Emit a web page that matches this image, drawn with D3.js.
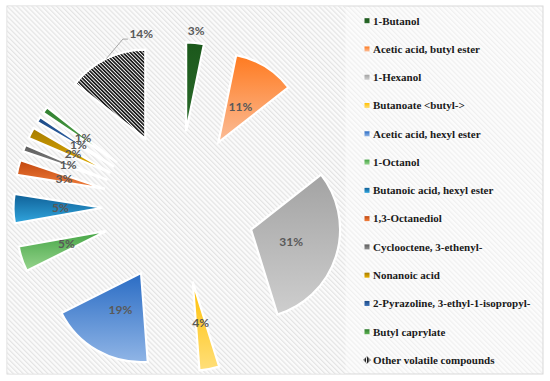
<!DOCTYPE html>
<html><head><meta charset="utf-8">
<script src="https://cdn.jsdelivr.net/npm/d3@7"></script>
<style>html,body{margin:0;padding:0;background:#fff;} svg{display:block}</style>
</head><body><svg id="chart" width="550" height="381"></svg>
<script>
// ---- data ----
const categories = ["1-Butanol", "Acetic acid, butyl ester", "1-Hexanol", "Butanoate <butyl->",
  "Acetic acid, hexyl ester", "1-Octanol", "Butanoic acid, hexyl ester", "1,3-Octanediol",
  "Cyclooctene, 3-ethenyl-", "Nonanoic acid", "2-Pyrazoline, 3-ethyl-1-isopropyl-",
  "Butyl caprylate", "Other volatile compounds"];
const values = [3.2, 11.2, 30.8, 3.6, 18.8, 4.6, 5.3, 2.7, 1.2, 2.0, 1.0, 1.2, 14.4];
const darkColors  = ["#1b581b", "#ff7a1f", "#a3a3a3", "#ffbf00", "#2a6cc4", "#45a545", "#0f5f96",
  "#c2470e", "#5e5e5e", "#a67c00", "#1c4a86", "#2f7d2f", null];
const lightColors = ["#2c6c2c", "#fbbd98", "#cecece", "#ffdf7a", "#90b5e6", "#96d48d", "#31a6de",
  "#f2803e", "#8e8e8e", "#e8b000", "#3d72b8", "#5fb352", null];
const outsideLabels = ["1-Butanol", "Other volatile compounds"];

// ---- layout ----
const W = 550, H = 381;
const cx = 178.5, cy = 207, R = 89, explode = 76, labelR = 118;
const svg = d3.select("#chart");
const defs = svg.append("defs");

function stripePattern(id, size, bg, fg, sw, rot) {
  const p = defs.append("pattern").attr("id", id).attr("patternUnits", "userSpaceOnUse")
    .attr("width", size).attr("height", size).attr("patternTransform", `rotate(${rot})`);
  p.append("rect").attr("width", size).attr("height", size).attr("fill", bg);
  p.append("line").attr("x1", sw / 2).attr("x2", sw / 2).attr("y1", 0).attr("y2", size)
    .attr("stroke", fg).attr("stroke-width", sw);
}
stripePattern("bgPlot", 3.5, "#fbfbfb", "#e4e4e4", 1.2, -45);
stripePattern("bgLegend", 3.5, "#fcfcfc", "#f0f0f0", 1.2, -45);
stripePattern("hatch", 2.6, "#ffffff", "#1a1a1a", 1.7, -45);

categories.forEach((c, i) => {
  if (!darkColors[i]) return;
  const g = defs.append("linearGradient").attr("id", "grad" + i)
    .attr("x1", 0).attr("y1", 0).attr("x2", 0).attr("y2", 1);
  g.append("stop").attr("offset", "0%").attr("stop-color", darkColors[i]);
  g.append("stop").attr("offset", "100%").attr("stop-color", lightColors[i]);
});
const fillOf = i => darkColors[i] ? `url(#grad${i})` : "url(#hatch)";

// chart area
svg.append("rect").attr("x", 7).attr("y", 6).attr("width", 536).attr("height", 368)
  .attr("fill", "url(#bgLegend)").attr("stroke", "#d9d9d9").attr("stroke-width", 1);
svg.append("rect").attr("x", 7.5).attr("y", 6.5).attr("width", 338).attr("height", 367)
  .attr("fill", "url(#bgPlot)");

// ---- pie ----
const pie = d3.pie().sort(null).value(d => d.v).startAngle(0).endAngle(2 * Math.PI);
const arcs = pie(categories.map((c, i) => ({ c, v: values[i], i })));
const arc = d3.arc().innerRadius(0).outerRadius(R);
const polar = (rho, a) => [cx + rho * Math.sin(a), cy - rho * Math.cos(a)];
const mid = d => (d.startAngle + d.endAngle) / 2;
const total = d3.sum(values);

svg.append("g").selectAll("path").data(arcs).join("path")
  .attr("transform", d => { const p = polar(explode, mid(d)); return `translate(${p[0]},${p[1]})`; })
  .attr("d", arc)
  .attr("fill", d => fillOf(d.data.i))
  .attr("stroke", "#ffffff").attr("stroke-width", 2.2).attr("stroke-linejoin", "miter");

// ---- labels ----
const lab = svg.append("g").attr("font-family", "Lato, 'Open Sans', sans-serif")
  .attr("font-weight", "bold").attr("font-size", 12).attr("fill", "#595959");
arcs.forEach(d => {
  const txt = Math.round(d.data.v / total * 100) + "%";
  const a = mid(d);
  if (d.data.c === "Other volatile compounds") {
    const p = polar(explode + R, a);
    const elbow = [p[0] + 16.5, p[1] - 19.5];
    const end = [elbow[0] + 5, elbow[1]];
    svg.append("polyline").attr("points", [p, elbow, end].map(q => q.join(",")).join(" "))
      .attr("fill", "none").attr("stroke", "#a6a6a6").attr("stroke-width", 1);
    lab.append("text").attr("x", end[0] + 1.5).attr("y", end[1] - 5).attr("dy", "0.35em")
      .attr("text-anchor", "start").text(txt);
  } else if (outsideLabels.includes(d.data.c)) {
    const p = polar(explode + R + 12, a);
    lab.append("text").attr("x", p[0]).attr("y", p[1]).attr("dy", "0.35em")
      .attr("text-anchor", "middle").text(txt);
  } else {
    const p = polar(labelR, a);
    lab.append("text").attr("x", p[0]).attr("y", p[1]).attr("dy", "0.35em")
      .attr("text-anchor", "middle").text(txt);
  }
});

// ---- legend ----
const ly = d3.scalePoint().domain(categories).range([20.7, 360]);
const leg = svg.append("g").selectAll("g").data(categories).join("g")
  .attr("transform", d => `translate(0,${ly(d)})`);
leg.each(function (c, i) {
  const g = d3.select(this);
  if (darkColors[i]) {
    g.append("rect").attr("x", 364.5).attr("y", -2.5).attr("width", 5).attr("height", 5)
      .attr("fill", fillOf(i));
  } else {
    g.append("rect").attr("x", -2.5).attr("y", -2.5).attr("width", 5).attr("height", 5)
      .attr("transform", "translate(367,0) rotate(45)").attr("fill", "url(#hatch)")
      .attr("stroke", "#555").attr("stroke-width", 0.5);
  }
  g.append("text").attr("x", 373).attr("y", 0).attr("dy", "0.35em")
    .attr("font-family", "'Liberation Serif', 'DejaVu Serif', serif").attr("font-weight", "bold")
    .attr("font-size", 11).attr("fill", "#1a1a1a").text(c);
});
</script>
</body></html>
